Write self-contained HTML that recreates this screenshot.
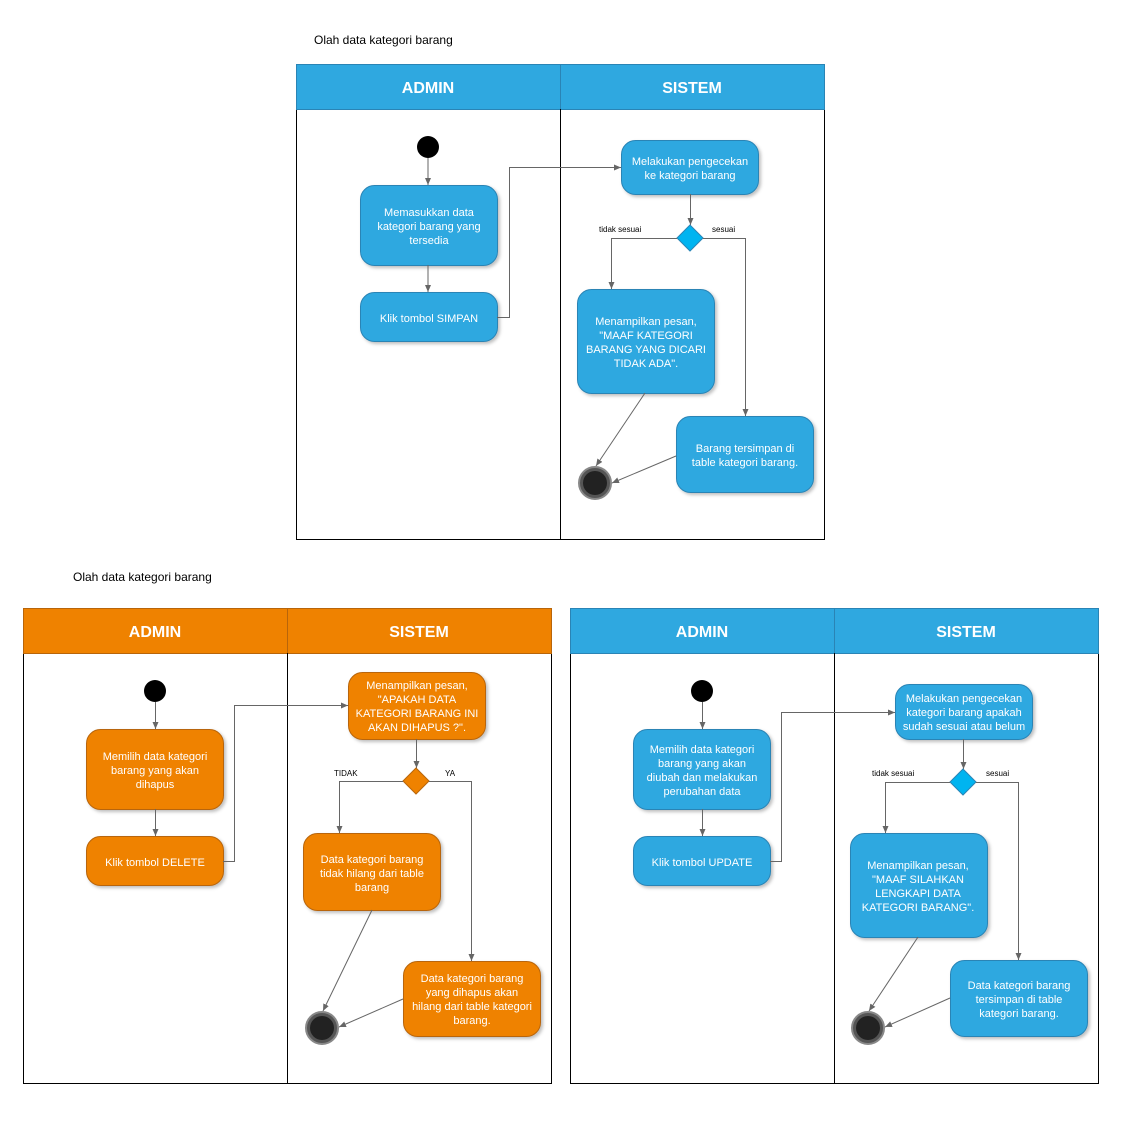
<!DOCTYPE html>
<html><head><meta charset="utf-8"><style>
html,body{margin:0;padding:0;background:#fff}
svg{display:block}
text{font-family:"Liberation Sans",sans-serif}
.t{fill:#fff;font-size:11px;text-anchor:middle}
.h{fill:#fff;font-size:16px;font-weight:bold;text-anchor:middle}
.l{fill:none;stroke:#666;stroke-width:1}
.lb{fill:#000;font-size:8px}
.ttl{fill:#000;font-size:12px}
.b{fill:#2fa8e0;stroke:#2a84b5;stroke-width:1}
.o{fill:#ef8200;stroke:#b8650a;stroke-width:1}
</style></head><body>
<svg width="1122" height="1145" viewBox="0 0 1122 1145" xmlns="http://www.w3.org/2000/svg">
<defs>
<marker id="a" markerWidth="8" markerHeight="8" refX="7" refY="4" orient="auto" markerUnits="userSpaceOnUse"><path d="M0,1 L7,4 L0,7 Z" fill="#666"/></marker>
<filter id="s" x="-10%" y="-10%" width="130%" height="130%"><feDropShadow dx="2" dy="2" stdDeviation="1.5" flood-color="#000" flood-opacity="0.25"/></filter>
</defs>

<!-- Diagram 1 -->
<text class="ttl" x="314" y="44">Olah data kategori barang</text>
<rect x="296.5" y="64.5" width="528" height="475" fill="#fff" stroke="#000"/>
<rect x="296.5" y="64.5" width="528" height="45" fill="#2fa8e0" stroke="#2a84b5"/>
<line x1="560.5" y1="64" x2="560.5" y2="540" stroke="#000"/>
<line x1="560.5" y1="64" x2="560.5" y2="109" stroke="#2a84b5"/>
<text class="h" x="428" y="93">ADMIN</text>
<text class="h" x="692" y="93">SISTEM</text>
<circle cx="428" cy="147" r="11" fill="#000"/>
<path class="l" d="M428,158 V185" marker-end="url(#a)"/>
<rect class="b" filter="url(#s)" x="360.5" y="185.5" width="137" height="80" rx="14"/>
<text class="t" x="429" y="216">Memasukkan data</text><text class="t" x="429" y="230">kategori barang yang</text><text class="t" x="429" y="244">tersedia</text>
<path class="l" d="M428,265 V292" marker-end="url(#a)"/>
<rect class="b" filter="url(#s)" x="360.5" y="292.5" width="137" height="49" rx="14"/>
<text class="t" x="429" y="322">Klik tombol SIMPAN</text>
<path class="l" d="M497,317.5 H509.5 V167.5 H621" marker-end="url(#a)"/>
<rect class="b" filter="url(#s)" x="621.5" y="140.5" width="137" height="54" rx="14"/>
<text class="t" x="690" y="165">Melakukan pengecekan</text><text class="t" x="690" y="179">ke kategori barang</text>
<path class="l" d="M690.5,194 V225" marker-end="url(#a)"/>
<path d="M690,225 L703,238 L690,251 L677,238 Z" fill="#00b4f0" stroke="#2a84b5"/>
<text class="lb" x="599" y="232">tidak sesuai</text><text class="lb" x="712" y="232">sesuai</text>
<path class="l" d="M677,238.5 H611.5 V289" marker-end="url(#a)"/>
<path class="l" d="M703,238.5 H745.5 V416" marker-end="url(#a)"/>
<rect class="b" filter="url(#s)" x="577.5" y="289.5" width="137" height="104" rx="14"/>
<text class="t" x="646" y="325">Menampilkan pesan,</text><text class="t" x="646" y="339">"MAAF KATEGORI</text><text class="t" x="646" y="353">BARANG YANG DICARI</text><text class="t" x="646" y="367">TIDAK ADA".</text>
<rect class="b" filter="url(#s)" x="676.5" y="416.5" width="137" height="76" rx="14"/>
<text class="t" x="745" y="452">Barang tersimpan di</text><text class="t" x="745" y="466">table kategori barang.</text>
<path class="l" d="M645,393 L596,466" marker-end="url(#a)"/>
<path class="l" d="M676,456 L612,483" marker-end="url(#a)"/>
<circle cx="595" cy="483" r="16" fill="#555" stroke="#888" stroke-width="2"/>
<circle cx="595" cy="483" r="12" fill="#222"/>

<!-- Diagram 2 orange -->
<text class="ttl" x="73" y="581">Olah data kategori barang</text>
<rect x="23.5" y="608.5" width="528" height="475" fill="#fff" stroke="#000"/>
<rect x="23.5" y="608.5" width="528" height="45" fill="#ef8200" stroke="#b8650a"/>
<line x1="287.5" y1="608" x2="287.5" y2="1084" stroke="#000"/>
<line x1="287.5" y1="608" x2="287.5" y2="653" stroke="#b8650a"/>
<text class="h" x="155" y="637">ADMIN</text>
<text class="h" x="419" y="637">SISTEM</text>
<circle cx="155" cy="691" r="11" fill="#000"/>
<path class="l" d="M155.5,702 V729" marker-end="url(#a)"/>
<rect class="o" filter="url(#s)" x="86.5" y="729.5" width="137" height="80" rx="14"/>
<text class="t" x="155" y="760">Memilih data kategori</text><text class="t" x="155" y="774">barang yang akan</text><text class="t" x="155" y="788">dihapus</text>
<path class="l" d="M155.5,809 V836" marker-end="url(#a)"/>
<rect class="o" filter="url(#s)" x="86.5" y="836.5" width="137" height="49" rx="14"/>
<text class="t" x="155" y="866">Klik tombol DELETE</text>
<path class="l" d="M223,861.5 H234.5 V705.5 H348" marker-end="url(#a)"/>
<rect class="o" filter="url(#s)" x="348.5" y="672.5" width="137" height="67" rx="14"/>
<text class="t" x="417" y="689">Menampilkan pesan,</text><text class="t" x="417" y="703">"APAKAH DATA</text><text class="t" x="417" y="717">KATEGORI BARANG INI</text><text class="t" x="417" y="731">AKAN DIHAPUS ?".</text>
<path class="l" d="M416.5,739 V768" marker-end="url(#a)"/>
<path d="M416,768 L429,781 L416,794 L403,781 Z" fill="#ef8200" stroke="#b8650a"/>
<text class="lb" x="334" y="776">TIDAK</text><text class="lb" x="445" y="776">YA</text>
<path class="l" d="M403,781.5 H339.5 V833" marker-end="url(#a)"/>
<path class="l" d="M429,781.5 H471.5 V961" marker-end="url(#a)"/>
<rect class="o" filter="url(#s)" x="303.5" y="833.5" width="137" height="77" rx="14"/>
<text class="t" x="372" y="863">Data kategori barang</text><text class="t" x="372" y="877">tidak hilang dari table</text><text class="t" x="372" y="891">barang</text>
<rect class="o" filter="url(#s)" x="403.5" y="961.5" width="137" height="75" rx="14"/>
<text class="t" x="472" y="982">Data kategori barang</text><text class="t" x="472" y="996">yang dihapus akan</text><text class="t" x="472" y="1010">hilang dari table kategori</text><text class="t" x="472" y="1024">barang.</text>
<path class="l" d="M372,910 L323,1011" marker-end="url(#a)"/>
<path class="l" d="M403,999 L339,1027" marker-end="url(#a)"/>
<circle cx="322" cy="1028" r="16" fill="#555" stroke="#888" stroke-width="2"/>
<circle cx="322" cy="1028" r="12" fill="#222"/>

<!-- Diagram 3 blue -->
<rect x="570.5" y="608.5" width="528" height="475" fill="#fff" stroke="#000"/>
<rect x="570.5" y="608.5" width="528" height="45" fill="#2fa8e0" stroke="#2a84b5"/>
<line x1="834.5" y1="608" x2="834.5" y2="1084" stroke="#000"/>
<line x1="834.5" y1="608" x2="834.5" y2="653" stroke="#2a84b5"/>
<text class="h" x="702" y="637">ADMIN</text>
<text class="h" x="966" y="637">SISTEM</text>
<circle cx="702" cy="691" r="11" fill="#000"/>
<path class="l" d="M702.5,702 V729" marker-end="url(#a)"/>
<rect class="b" filter="url(#s)" x="633.5" y="729.5" width="137" height="80" rx="14"/>
<text class="t" x="702" y="753">Memilih data kategori</text><text class="t" x="702" y="767">barang yang akan</text><text class="t" x="702" y="781">diubah dan melakukan</text><text class="t" x="702" y="795">perubahan data</text>
<path class="l" d="M702.5,809 V836" marker-end="url(#a)"/>
<rect class="b" filter="url(#s)" x="633.5" y="836.5" width="137" height="49" rx="14"/>
<text class="t" x="702" y="866">Klik tombol UPDATE</text>
<path class="l" d="M770,861.5 H781.5 V712.5 H895" marker-end="url(#a)"/>
<rect class="b" filter="url(#s)" x="895.5" y="684.5" width="137" height="55" rx="14"/>
<text class="t" x="964" y="702">Melakukan pengecekan</text><text class="t" x="964" y="716">kategori barang apakah</text><text class="t" x="964" y="730">sudah sesuai atau belum</text>
<path class="l" d="M963.5,739 V769" marker-end="url(#a)"/>
<path d="M963,769 L976,782 L963,795 L950,782 Z" fill="#00b4f0" stroke="#2a84b5"/>
<text class="lb" x="872" y="776">tidak sesuai</text><text class="lb" x="986" y="776">sesuai</text>
<path class="l" d="M950,782.5 H885.5 V833" marker-end="url(#a)"/>
<path class="l" d="M976,782.5 H1018.5 V960" marker-end="url(#a)"/>
<rect class="b" filter="url(#s)" x="850.5" y="833.5" width="137" height="104" rx="14"/>
<text class="t" x="918" y="869">Menampilkan pesan,</text><text class="t" x="918" y="883">"MAAF SILAHKAN</text><text class="t" x="918" y="897">LENGKAPI DATA</text><text class="t" x="918" y="911">KATEGORI BARANG".</text>
<rect class="b" filter="url(#s)" x="950.5" y="960.5" width="137" height="76" rx="14"/>
<text class="t" x="1019" y="989">Data kategori barang</text><text class="t" x="1019" y="1003">tersimpan di table</text><text class="t" x="1019" y="1017">kategori barang.</text>
<path class="l" d="M918,937 L869,1011" marker-end="url(#a)"/>
<path class="l" d="M950,998 L885,1027" marker-end="url(#a)"/>
<circle cx="868" cy="1028" r="16" fill="#555" stroke="#888" stroke-width="2"/>
<circle cx="868" cy="1028" r="12" fill="#222"/>
</svg>
</body></html>
